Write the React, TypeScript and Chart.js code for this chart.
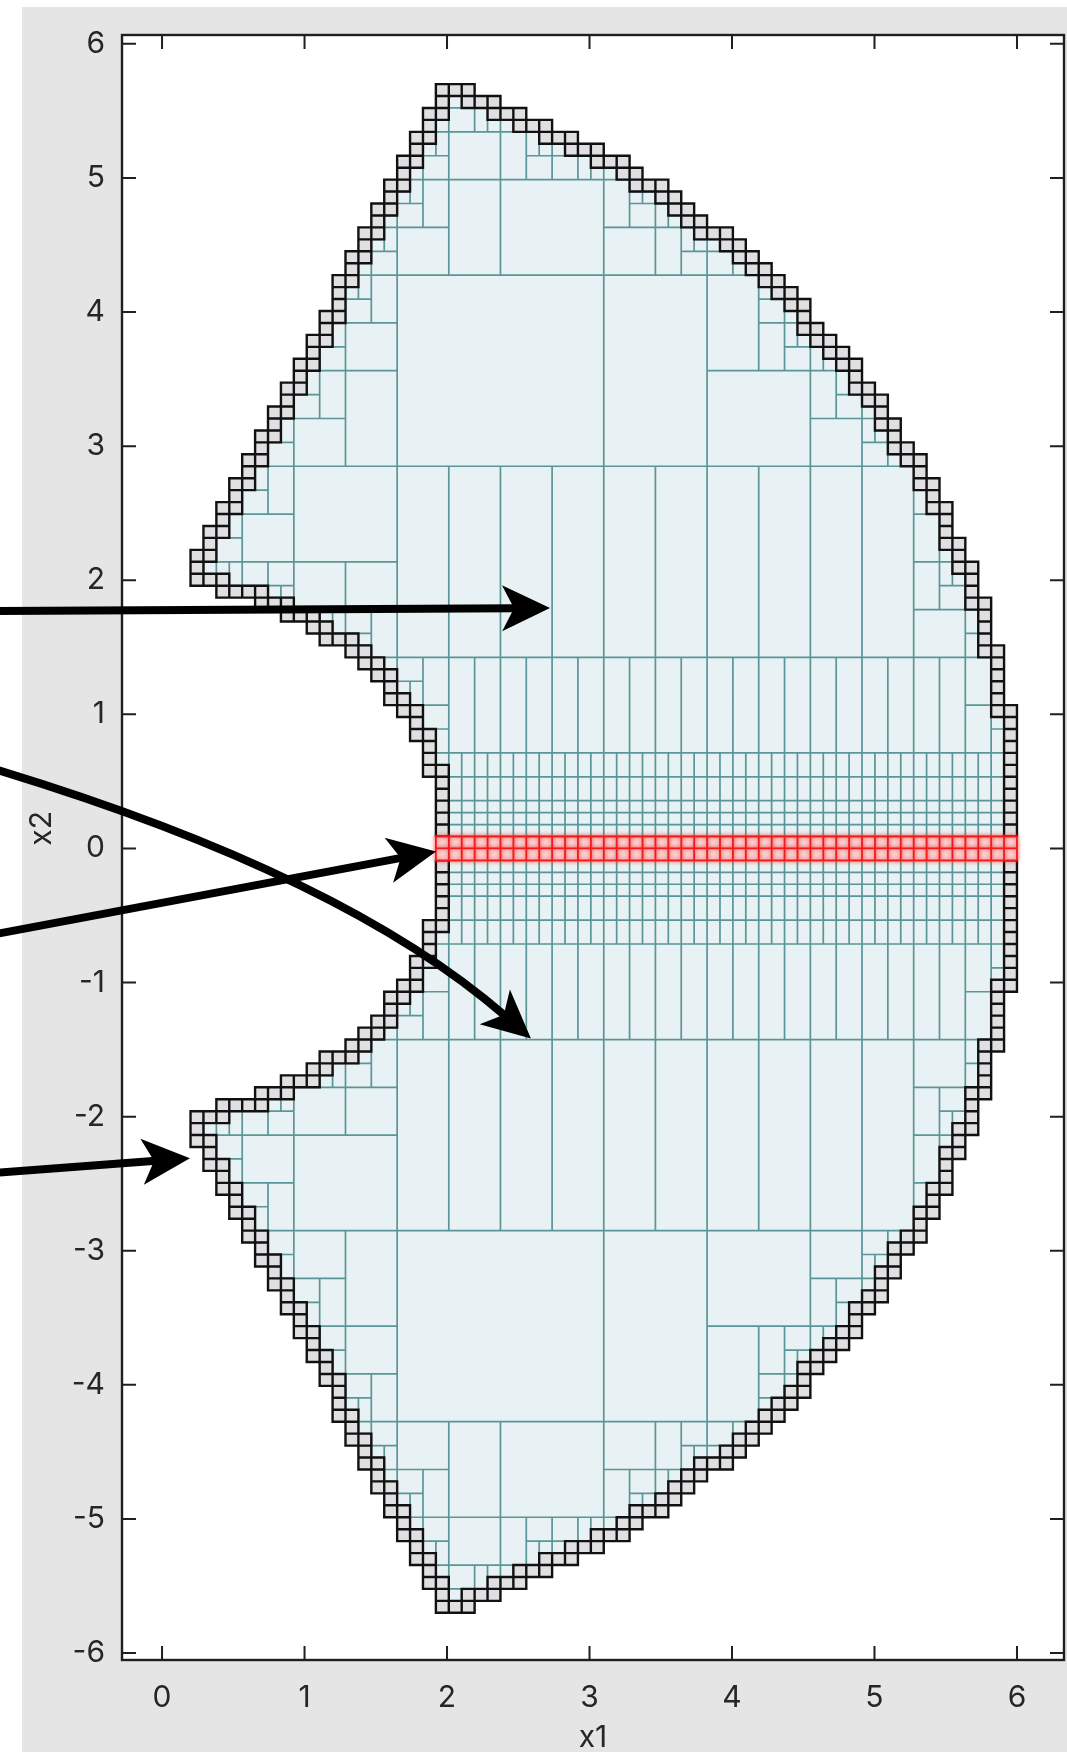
import { useEffect, useRef } from "react";
import { Chart, registerables } from "chart.js";

Chart.register(...registerables);

// ---- axes ----
const X_TICKS = [0, 1, 2, 3, 4, 5, 6];
const Y_TICKS = [-6, -5, -4, -3, -2, -1, 0, 1, 2, 3, 4, 5, 6];
const X_RANGE = [-0.281, 6.33];
const Y_RANGE = [-6.052, 6.066];
const X_TITLE = "x1";
const Y_TITLE = "x2";
const Y_TITLE_AT = 0.15; // x2 value at which the rotated y title is centred

// ---- the set that is paved ----
const INNER_RADIUS = 2;
const OUTER_RADIUS = 6;
const SIDE_SLOPE = 2.04; // |x2| <= SIDE_SLOPE * x1 + SIDE_OFFSET
const SIDE_OFFSET = 1.56;
const SEARCH_X = [0.2, 6.0];
const SEARCH_Y = [-5.7, 5.7];
const EPSILON = 0.091;
// refinement towards the x2 = 0 line (where the test stays undecided)
const NEAR_ROWS = 0.7; // below this distance rows are halved twice as often
const KY_NEAR = 2;
const KY_FAR = 1;
const NEAR_COLS = 2; // below this distance width <= dist / KX_NEAR
const KX_NEAR = 3;
const KX_FAR = 2.5; // beyond: width <= dist^2 / KX_FAR

// ---- annotation arrows, data coordinates [x1, x2] ----
const ARROW_TAILS = [
  [-1.2, 1.771],
  [-1.2, -0.645],
  [-1.2, -2.421],
];
const ARROW_TIPS = [
  [2.723, 1.793],
  [1.923, -0.022],
  [0.196, -2.31],
];
const CURVED_ARROW = [
  [-1.2, 0.6],
  [1.27, -0.192],
  [2.589, -1.417],
];

type Box = [number, number, number, number];

function pave() {
  const inner: Box[] = [];
  const edge: Box[] = [];
  const axis: Box[] = [];
  const stack: Box[] = [[SEARCH_X[0], SEARCH_X[1], SEARCH_Y[0], SEARCH_Y[1]]];
  const r1 = INNER_RADIUS * INNER_RADIUS;
  const r2 = OUTER_RADIUS * OUTER_RADIUS;
  const tol = 1e-9;
  while (stack.length) {
    const b = stack.pop() as Box;
    const [x0, x1, y0, y1] = b;
    const nx = x0 > 0 ? x0 : x1 < 0 ? x1 : 0;
    const ny = y0 > 0 ? y0 : y1 < 0 ? y1 : 0;
    const minR = nx * nx + ny * ny;
    const maxR = Math.max(x0 * x0, x1 * x1) + Math.max(y0 * y0, y1 * y1);
    const d = Math.abs(ny);
    const ayMax = Math.max(Math.abs(y0), Math.abs(y1));
    const gMin = d - (SIDE_SLOPE * x1 + SIDE_OFFSET);
    const gMax = ayMax - (SIDE_SLOPE * x0 + SIDE_OFFSET);
    if (maxR < r1 || minR > r2 || gMin > 0) continue;
    const w = x1 - x0;
    const h = y1 - y0;
    const xm = (x0 + x1) / 2;
    const ym = (y0 + y1) / 2;
    const inside = minR >= r1 && maxR <= r2 && gMax <= 0;
    if (!inside) {
      if (Math.max(w, h) <= EPSILON) {
        (d === 0 ? axis : edge).push(b);
        continue;
      }
      if (w >= h) stack.push([x0, xm, y0, y1], [xm, x1, y0, y1]);
      else stack.push([x0, x1, y0, ym], [x0, x1, ym, y1]);
      continue;
    }
    const ky = d < NEAR_ROWS ? KY_NEAR : KY_FAR;
    const maxW = d < NEAR_COLS ? d / KX_NEAR : (d * d) / KX_FAR;
    if (h * ky > d + tol && h > EPSILON) {
      stack.push([x0, x1, y0, ym], [x0, x1, ym, y1]);
    } else if (w > maxW + tol && w > EPSILON) {
      stack.push([x0, xm, y0, y1], [xm, x1, y0, y1]);
    } else {
      (d === 0 ? axis : inner).push(b);
    }
  }
  return { inner, edge, axis };
}

const PAVING = pave();

const FONT = "Inter, 'Liberation Sans', Arial, sans-serif";
const TEXT = "#262626";
const FONT_SIZE = 30;

export default function App() {
  const ref = useRef<HTMLCanvasElement | null>(null);

  useEffect(() => {
    document.body.style.margin = "0";
    const canvas = ref.current;
    if (!canvas) return;

    const background = {
      id: "background",
      beforeDraw(chart: any) {
        const { ctx, chartArea, width, height } = chart;
        ctx.save();
        ctx.fillStyle = "#ffffff";
        ctx.fillRect(0, 0, width, height);
        ctx.fillStyle = "#e5e5e5";
        ctx.fillRect(22, 7, width - 22, height - 7);
        ctx.fillStyle = "#ffffff";
        ctx.fillRect(chartArea.left, chartArea.top, chartArea.right - chartArea.left, chartArea.bottom - chartArea.top);
        ctx.restore();
      },
      afterDraw(chart: any) {
        const { ctx } = chart;
        const py = chart.scales.y.getPixelForValue(Y_TITLE_AT);
        ctx.save();
        ctx.translate(42, py);
        ctx.rotate(-Math.PI / 2);
        ctx.fillStyle = TEXT;
        ctx.font = `${FONT_SIZE}px ${FONT}`;
        ctx.textAlign = "center";
        ctx.textBaseline = "middle";
        ctx.fillText(Y_TITLE, 0, 0);
        ctx.restore();
      },
    };

    const paving = {
      id: "paving",
      beforeDatasetsDraw(chart: any) {
        const { ctx } = chart;
        const sx = chart.scales.x;
        const sy = chart.scales.y;
        const draw = (boxes: Box[], fill: string, stroke: string, lw: number) => {
          ctx.save();
          ctx.fillStyle = fill;
          for (const [x0, x1, y0, y1] of boxes) {
            const a = sx.getPixelForValue(x0);
            const c = sx.getPixelForValue(x1);
            const t = sy.getPixelForValue(y1);
            const u = sy.getPixelForValue(y0);
            ctx.fillRect(a, t, c - a, u - t);
          }
          ctx.strokeStyle = stroke;
          ctx.lineWidth = lw;
          ctx.beginPath();
          for (const [x0, x1, y0, y1] of boxes) {
            const a = sx.getPixelForValue(x0);
            const c = sx.getPixelForValue(x1);
            const t = sy.getPixelForValue(y1);
            const u = sy.getPixelForValue(y0);
            ctx.rect(a, t, c - a, u - t);
          }
          ctx.stroke();
          ctx.restore();
        };
        draw(PAVING.inner, "#e8f1f3", "#5a9597", 1.7);
        draw(PAVING.edge, "#e0dfe1", "#111111", 2.4);
        ctx.save();
        ctx.shadowColor = "rgba(255,40,40,0.7)";
        ctx.shadowBlur = 4;
        draw(PAVING.axis, "#f8d0d0", "#ee1c1c", 1.8);
        ctx.restore();
      },
      afterDatasetsDraw(chart: any) {
        const { ctx, chartArea } = chart;
        const { left, right, top, bottom } = chartArea;
        const sx = chart.scales.x;
        const sy = chart.scales.y;
        const L = 14;
        ctx.save();
        ctx.strokeStyle = "#1f1f1f";
        ctx.lineWidth = 2;
        ctx.beginPath();
        for (const v of X_TICKS) {
          const p = sx.getPixelForValue(v);
          ctx.moveTo(p, bottom);
          ctx.lineTo(p, bottom - L);
          ctx.moveTo(p, top);
          ctx.lineTo(p, top + L);
        }
        for (const v of Y_TICKS) {
          const p = sy.getPixelForValue(v);
          ctx.moveTo(left, p);
          ctx.lineTo(left + L, p);
          ctx.moveTo(right, p);
          ctx.lineTo(right - L, p);
        }
        ctx.stroke();
        ctx.lineWidth = 2.4;
        ctx.strokeRect(left, top, right - left, bottom - top);
        ctx.restore();
      },
    };

    const arrows = {
      id: "arrows",
      afterDraw(chart: any) {
        const { ctx } = chart;
        const sx = chart.scales.x;
        const sy = chart.scales.y;
        const P = (p: number[]) => [sx.getPixelForValue(p[0]), sy.getPixelForValue(p[1])];
        const HL = 48;
        const HW = 23;
        const NOTCH = 12;
        const head = (tip: number[], from: number[]) => {
          let ux = tip[0] - from[0];
          let uy = tip[1] - from[1];
          const n = Math.hypot(ux, uy);
          ux /= n;
          uy /= n;
          const nx = -uy;
          const ny = ux;
          const bx = tip[0] - HL * ux;
          const by = tip[1] - HL * uy;
          ctx.beginPath();
          ctx.moveTo(tip[0], tip[1]);
          ctx.lineTo(bx + HW * nx, by + HW * ny);
          ctx.lineTo(tip[0] - (HL - NOTCH) * ux, tip[1] - (HL - NOTCH) * uy);
          ctx.lineTo(bx - HW * nx, by - HW * ny);
          ctx.closePath();
          ctx.fill();
          return [tip[0] - (HL - NOTCH - 2) * ux, tip[1] - (HL - NOTCH - 2) * uy];
        };
        ctx.save();
        ctx.fillStyle = "#000";
        ctx.strokeStyle = "#000";
        ctx.lineWidth = 8;
        ctx.lineCap = "butt";
        ARROW_TAILS.forEach((tail, i) => {
          const a = P(tail);
          const b = P(ARROW_TIPS[i]);
          const end = head(b, a);
          ctx.beginPath();
          ctx.moveTo(a[0], a[1]);
          ctx.lineTo(end[0], end[1]);
          ctx.stroke();
        });
        const c0 = P(CURVED_ARROW[0]);
        const c1 = P(CURVED_ARROW[1]);
        const c2 = P(CURVED_ARROW[2]);
        const end = head(c2, c1);
        ctx.beginPath();
        ctx.moveTo(c0[0], c0[1]);
        ctx.quadraticCurveTo(c1[0], c1[1], end[0], end[1]);
        ctx.stroke();
        ctx.restore();
      },
    };

    const chart = new Chart(canvas, {
      type: "scatter",
      data: { datasets: [{ data: [], pointRadius: 0 }] },
      options: {
        animation: false,
        responsive: false,
        devicePixelRatio: 1,
        layout: { padding: { left: 22, top: 18, right: 3, bottom: 0 } },
        plugins: { legend: { display: false }, tooltip: { enabled: false } },
        scales: {
          x: {
            type: "linear",
            min: X_RANGE[0],
            max: X_RANGE[1],
            grid: { display: false, drawTicks: false },
            border: { display: false },
            afterBuildTicks: (scale: any) => {
              scale.ticks = X_TICKS.map((value) => ({ value }));
            },
            afterFit: (scale: any) => {
              scale.height = 92;
            },
            ticks: {
              autoSkip: false,
              maxRotation: 0,
              padding: 20,
              color: TEXT,
              font: { family: FONT, size: FONT_SIZE },
              callback: (v: any) => String(v),
            },
            title: {
              display: true,
              text: X_TITLE,
              color: TEXT,
              font: { family: FONT, size: FONT_SIZE, lineHeight: 1 },
              padding: { top: 0, bottom: -1 },
            },
          },
          y: {
            type: "linear",
            min: Y_RANGE[0],
            max: Y_RANGE[1],
            grid: { display: false, drawTicks: false },
            border: { display: false },
            afterBuildTicks: (scale: any) => {
              scale.ticks = Y_TICKS.map((value) => ({ value }));
            },
            afterFit: (scale: any) => {
              scale.width = 100;
            },
            ticks: {
              autoSkip: false,
              padding: 17,
              color: TEXT,
              font: { family: FONT, size: FONT_SIZE },
              callback: (v: any) => String(v),
            },
          },
        },
      },
      plugins: [background, paving, arrows],
    } as any);

    return () => chart.destroy();
  }, []);

  return <canvas ref={ref} width={1067} height={1752} style={{ display: "block" }} />;
}
